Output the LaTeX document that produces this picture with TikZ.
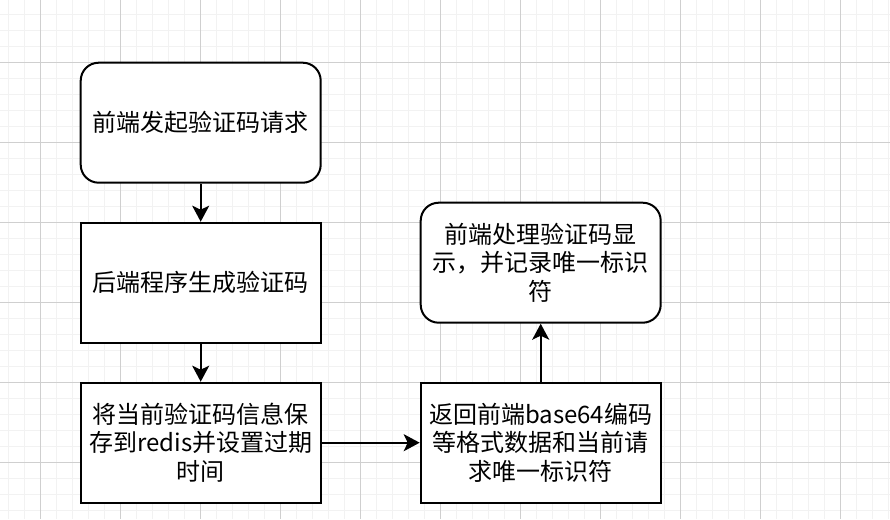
\documentclass[tikz,border=0pt]{standalone}
\usepackage{fontspec}
\newfontfamily\cjk{Noto Sans CJK SC}
\usetikzlibrary{arrows.meta}
\definecolor{gridmajor}{HTML}{CFCFCF}
\definecolor{gridminor}{HTML}{F2F2F2}
\tikzset{
  box/.style={draw=black, line width=2pt, fill=white, minimum width=240pt, minimum height=120pt,
    align=center, inner sep=0pt, font=\cjk\fontsize{24}{28.8}\selectfont},
  roundbox/.style={box, rounded corners=18pt},
  conn/.style={draw=black, line width=2pt, -{Stealth[length=16pt,width=17pt,inset=4pt]}},
}
\begin{document}
\begin{tikzpicture}[x=1pt,y=-1pt]
\useasboundingbox (0,0) rectangle (890,519);
\fill[white] (0,0) rectangle (890,519);
% minor grid
\foreach \i in {0,...,56} {
  \draw[gridminor, line width=1pt] ({8.7+16*\i},0) -- ({8.7+16*\i},519);
}
\foreach \j in {0,...,33} {
  \draw[gridminor, line width=1pt] (0,{-1.7+16*\j}) -- (890,{-1.7+16*\j});
}
% major grid
\foreach \i in {0,...,10} {
  \draw[gridmajor, line width=1pt] ({40.7+80*\i},0) -- ({40.7+80*\i},519);
}
\foreach \j in {0,...,6} {
  \draw[gridmajor, line width=1pt] (0,{62.3+80*\j}) -- (890,{62.3+80*\j});
}
% nodes
\node[roundbox] (a) at (200.7,122.7) {前端发起验证码请求};
\node[box] (b) at (200.7,282.7) {后端程序生成验证码};
\node[box] (c) at (200.7,442.7) {将当前验证码信息保\\存到redis并设置过期\\时间};
\node[box] (d) at (540.7,442.7) {返回前端base64编码\\等格式数据和当前请\\求唯一标识符};
\node[roundbox] (e) at (540.7,262.7) {前端处理验证码显\\示，并记录唯一标识\\符};
% connectors
\draw[conn] (a) -- (b);
\draw[conn] (b) -- (c);
\draw[conn] (c) -- (d);
\draw[conn] (d) -- (e);
\end{tikzpicture}
\end{document}
